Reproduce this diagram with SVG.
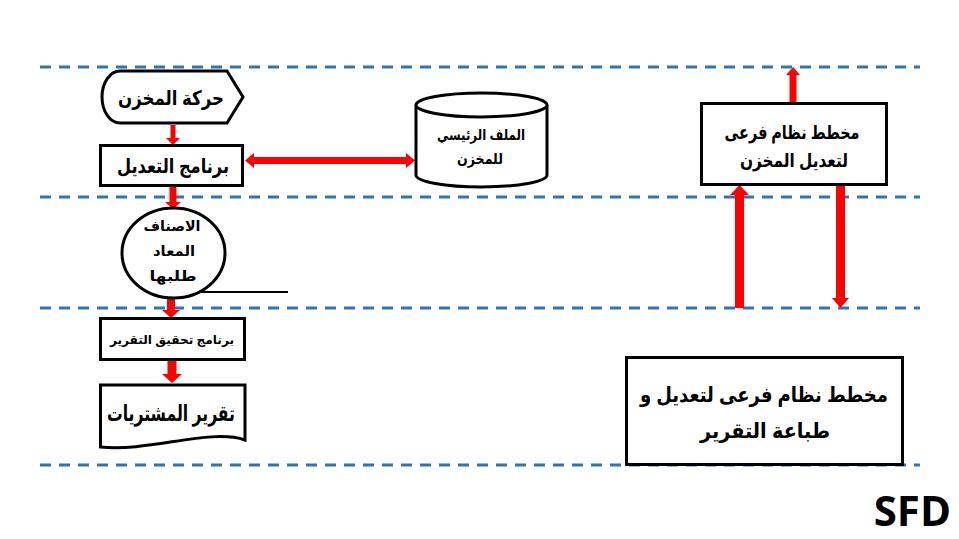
<svg xmlns="http://www.w3.org/2000/svg" width="959" height="539" viewBox="0 0 959 539">
<style>
.lane{stroke:#2E75B6;stroke-width:3;stroke-dasharray:11 8;fill:none}
.shape{fill:#fff;stroke:#000;stroke-width:3}
.arr{fill:#FF0000;stroke:none}
.t{font-family:"Liberation Sans","DejaVu Sans",sans-serif;font-weight:bold;fill:#000;text-anchor:middle}
</style>
<rect width="959" height="539" fill="#fff"/>
<g id="lanes">
<line class="lane" x1="40" y1="67" x2="920" y2="67"/>
<line class="lane" x1="40" y1="197" x2="920" y2="197"/>
<line class="lane" x1="40" y1="308" x2="920" y2="308"/>
<line class="lane" x1="40" y1="465" x2="920" y2="465"/>
</g>
<g id="connectors">
<polygon class="arr" points="170.5,125 175.5,125 175.5,138 180,138 173,145 166,138 170.5,138"/>
<polygon class="arr" points="245,160.5 254,153 254,157 406,157 406,153 415,160.5 406,168 406,164 254,164 254,168"/>
<polygon class="arr" points="169.5,187 176.5,187 176.5,202 181,202 173,209 165,202 169.5,202"/>
<polygon class="arr" points="167,298 175,298 175,310 180,310 171,318 162,310 167,310"/>
<polygon class="arr" points="167.5,360 176.5,360 176.5,374 182,374 172,383 162,374 167.5,374"/>
<line x1="200" y1="292" x2="288" y2="292" stroke="#000" stroke-width="2"/>
<polygon class="arr" points="789.5,103 796.5,103 796.5,75 800,75 793,67 786,75 789.5,75"/>
<polygon class="arr" points="735,308 744,308 744,195 749,195 739.5,185 730,195 735,195"/>
<polygon class="arr" points="836,185 845,185 845,298 849,298 840.5,308 832,298 836,298"/>
</g>
<g id="n-movement">
<path class="shape" d="M120,71 H227 L243,97 L227,123 H120 A18,26 0 0 1 120,71 Z"/>
<text class="t" x="171" y="105" font-size="20" textLength="106" lengthAdjust="spacingAndGlyphs">حركة المخزن</text>
</g>
<g id="n-editprog">
<rect class="shape" x="100.5" y="145.5" width="142" height="40"/>
<text class="t" x="173" y="173" font-size="20" textLength="112" lengthAdjust="spacingAndGlyphs">برنامج التعديل</text>
</g>
<g id="n-masterfile">
<path class="shape" d="M416,105 V175 A65.5,12 0 0 0 547,175 V105"/>
<ellipse class="shape" cx="481.5" cy="105" rx="65.5" ry="12"/>
<text class="t" x="481" y="140" font-size="15" textLength="88" lengthAdjust="spacingAndGlyphs">الملف الرئيسي</text>
<text class="t" x="480" y="164" font-size="15" textLength="46" lengthAdjust="spacingAndGlyphs">للمخزن</text>
</g>
<g id="n-reorder">
<ellipse class="shape" cx="173.5" cy="253" rx="51.5" ry="45"/>
<text class="t" x="172" y="231" font-size="14" textLength="57" lengthAdjust="spacingAndGlyphs">الاصناف</text>
<text class="t" x="174" y="256" font-size="14" textLength="42" lengthAdjust="spacingAndGlyphs">المعاد</text>
<text class="t" x="173" y="281" font-size="14" textLength="47" lengthAdjust="spacingAndGlyphs">طلبها</text>
</g>
<g id="n-reportprog">
<rect class="shape" x="100.5" y="318.5" width="144" height="41"/>
<text class="t" x="172" y="344" font-size="12" textLength="124" lengthAdjust="spacingAndGlyphs">برنامج تحقيق التقرير</text>
</g>
<g id="n-purchreport">
<path class="shape" d="M100.5,385 H245 V440 C210,428 150,452 100.5,447 Z"/>
<text class="t" x="171" y="421" font-size="22" textLength="128" lengthAdjust="spacingAndGlyphs">تقرير المشتريات</text>
</g>
<g id="n-sub1">
<rect class="shape" x="701.5" y="103.5" width="185" height="81"/>
<text class="t" x="792" y="139" font-size="19" textLength="135" lengthAdjust="spacingAndGlyphs">مخطط نظام فرعى</text>
<text class="t" x="794" y="167" font-size="19" textLength="108" lengthAdjust="spacingAndGlyphs">لتعديل المخزن</text>
</g>
<g id="n-sub2">
<rect class="shape" x="626.5" y="357.5" width="276" height="107"/>
<text class="t" x="764" y="402" font-size="21" textLength="248" lengthAdjust="spacingAndGlyphs">مخطط نظام فرعى لتعديل و</text>
<text class="t" x="765" y="438" font-size="21" textLength="130" lengthAdjust="spacingAndGlyphs">طباعة التقرير</text>
</g>
<text x="951" y="526" font-family="'Open Sans','Liberation Sans',sans-serif" font-weight="bold" font-size="42" text-anchor="end" fill="#000">SFD</text>
</svg>
